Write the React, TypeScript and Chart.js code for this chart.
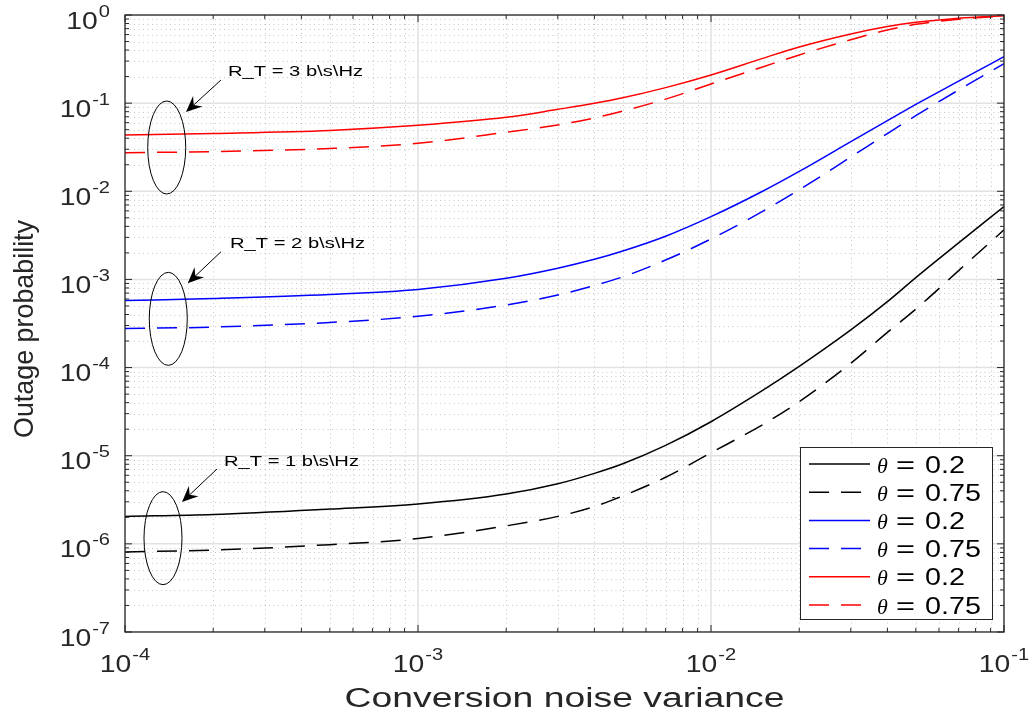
import React, { useEffect, useRef } from "react";
import { Chart, registerables } from "chart.js";

Chart.register(...registerables);

// ---------------- data ----------------
const X_VALUES = [1e-4, 2e-4, 5e-4, 1e-3, 2e-3, 3e-3, 4e-3, 5e-3, 7e-3, 1e-2, 1.5e-2, 2e-2, 3e-2, 4e-2, 5e-2, 7e-2, 1e-1];

const RT1_THETA_02 = [2.05e-6, 2.15e-6, 2.48e-6, 2.83e-6, 3.67e-6, 4.8e-6, 6.3e-6, 8.1e-6, 1.31e-5, 2.43e-5, 5.5e-5, 1.03e-4, 2.67e-4, 5.6e-4, 1.05e-3, 2.6e-3, 6.7e-3];
const RT1_THETA_075 = [8.1e-7, 8.5e-7, 9.8e-7, 1.15e-6, 1.6e-6, 2.05e-6, 2.65e-6, 3.5e-6, 5.7e-6, 1.08e-5, 2.25e-5, 4.1e-5, 1.12e-4, 2.51e-4, 4.6e-4, 1.26e-3, 3.65e-3];
const RT2_THETA_02 = [5.75e-4, 6.08e-4, 6.75e-4, 7.7e-4, 1.03e-3, 1.34e-3, 1.69e-3, 2.1e-3, 3.09e-3, 5.15e-3, 0.01, 0.0168, 0.0366, 0.0635, 0.0966, 0.178, 0.336];
const RT2_THETA_075 = [2.77e-4, 2.88e-4, 3.25e-4, 3.82e-4, 5.13e-4, 6.65e-4, 8.53e-4, 1.07e-3, 1.66e-3, 2.88e-3, 5.92e-3, 0.0104, 0.0245, 0.0452, 0.072, 0.141, 0.28];
const RT3_THETA_02 = [0.0435, 0.0453, 0.049, 0.056, 0.069, 0.085, 0.0995, 0.115, 0.15, 0.209, 0.322, 0.434, 0.61, 0.741, 0.826, 0.92, 0.98];
const RT3_THETA_075 = [0.0274, 0.0282, 0.0306, 0.035, 0.0468, 0.0565, 0.068, 0.0814, 0.111, 0.165, 0.2575, 0.352, 0.525, 0.676, 0.784, 0.895, 0.97];

const THETA_LABELS = ["0.2", "0.75", "0.2", "0.75", "0.2", "0.75"];

const X_TICK_EXPONENTS = [-4, -3, -2, -1];
const Y_TICK_EXPONENTS = [0, -1, -2, -3, -4, -5, -6, -7];
const MINOR_MULTIPLIERS = [2, 3, 4, 5, 6, 7, 8, 9];

const X_TITLE = "Conversion noise variance";
const Y_TITLE = "Outage probability";

const ANNOTATION_LABELS = ["R_T = 3 b\\s\\Hz", "R_T = 2 b\\s\\Hz", "R_T = 1 b\\s\\Hz"];
const ELLIPSE_CENTER_X = [1.388e-4, 1.405e-4, 1.348e-4];
const ELLIPSE_CENTER_Y = [0.0314, 3.57e-4, 1.16e-6];
const ARROW_TAIL_X = [2.126e-4, 2.126e-4, 2.06e-4];
const ARROW_TAIL_Y = [0.183, 2.06e-3, 7.06e-6];
const ARROW_TIP_X = [1.615e-4, 1.637e-4, 1.565e-4];
const ARROW_TIP_Y = [0.0793, 9.04e-4, 2.98e-6];
const LABEL_X = [2.247e-4, 2.283e-4, 2.177e-4];
const LABEL_Y = [0.203, 2.27e-3, 7.64e-6];
const GLITCH_X = 4.7e-3;
const GLITCH_Y = 3.28e-6;

// ---------------- styles ----------------
const SANS = "'Liberation Sans', Arial, Helvetica, sans-serif";
const SERIF = "'Liberation Serif', 'DejaVu Serif', serif";
const AXIS_COLOR = "#262626";
const SERIES = [
  { data: RT1_THETA_02, color: "#000000", dash: [] as number[] },
  { data: RT1_THETA_075, color: "#000000", dash: [20, 12] },
  { data: RT2_THETA_02, color: "#0000ff", dash: [] as number[] },
  { data: RT2_THETA_075, color: "#0000ff", dash: [20, 12] },
  { data: RT3_THETA_02, color: "#ff0000", dash: [] as number[] },
  { data: RT3_THETA_075, color: "#ff0000", dash: [20, 12] },
];

function drawStretched(ctx: CanvasRenderingContext2D, text: string, x: number, y: number, font: string, sx: number, align: string) {
  ctx.save();
  ctx.font = font;
  const w = ctx.measureText(text).width * sx;
  const x0 = align === "left" ? x : align === "center" ? x - w / 2 : x - w;
  ctx.translate(x0, y);
  ctx.scale(sx, 1);
  ctx.textAlign = "left";
  ctx.textBaseline = "alphabetic";
  ctx.fillText(text, 0, 0);
  ctx.restore();
  return w;
}

function drawFitted(ctx: CanvasRenderingContext2D, text: string, x: number, y: number, font: string, width: number, align: string) {
  ctx.save();
  ctx.font = font;
  const sx = width / ctx.measureText(text).width;
  ctx.restore();
  drawStretched(ctx, text, x, y, font, sx, align);
}

function drawPower(ctx: CanvasRenderingContext2D, exp: number, x: number, baseline: number, align: string) {
  const baseFont = `24px ${SANS}`;
  const supFont = `17px ${SANS}`;
  const sx = 1.18;
  const expStr = String(exp);
  ctx.font = baseFont;
  const wb = ctx.measureText("10").width * sx;
  ctx.font = supFont;
  const we = ctx.measureText(expStr).width * sx;
  const gap = 1;
  const total = wb + gap + we;
  const start = align === "center" ? x - total / 2 : x - total;
  drawStretched(ctx, "10", start, baseline, baseFont, sx, "left");
  drawStretched(ctx, expStr, start + wb + gap, baseline - 12, supFont, sx, "left");
}

function tickValues(exps: number[]) {
  const lo = Math.min(...exps);
  const hi = Math.max(...exps);
  const major: number[] = [];
  const minor: number[] = [];
  for (let e = lo; e <= hi; e++) {
    major.push(Math.pow(10, e));
    if (e < hi) MINOR_MULTIPLIERS.forEach((m) => minor.push(m * Math.pow(10, e)));
  }
  return { major, minor };
}

const decorPlugin = {
  id: "matlabDecor",
  beforeDraw(chart: any) {
    const ctx = chart.ctx as CanvasRenderingContext2D;
    ctx.save();
    ctx.fillStyle = "#ffffff";
    ctx.fillRect(0, 0, chart.width, chart.height);
    ctx.restore();
  },
  beforeDatasetsDraw(chart: any) {
    const ctx = chart.ctx as CanvasRenderingContext2D;
    const ca = chart.chartArea;
    const xs = chart.scales.x;
    const ys = chart.scales.y;
    const xt = tickValues(X_TICK_EXPONENTS);
    const yt = tickValues(Y_TICK_EXPONENTS);
    ctx.save();
    ctx.beginPath();
    ctx.rect(ca.left, ca.top, ca.right - ca.left, ca.bottom - ca.top);
    ctx.clip();
    // minor grid
    ctx.strokeStyle = "rgba(38,38,38,0.26)";
    ctx.lineWidth = 1;
    ctx.setLineDash([1, 3.5]);
    xt.minor.forEach((v) => {
      const p = Math.round(xs.getPixelForValue(v)) + 0.5;
      ctx.beginPath();
      ctx.moveTo(p, ca.top);
      ctx.lineTo(p, ca.bottom);
      ctx.stroke();
    });
    yt.minor.forEach((v) => {
      const p = Math.round(ys.getPixelForValue(v)) + 0.5;
      ctx.beginPath();
      ctx.moveTo(ca.left, p);
      ctx.lineTo(ca.right, p);
      ctx.stroke();
    });
    // major grid
    ctx.setLineDash([]);
    ctx.strokeStyle = "#e2e2e2";
    ctx.lineWidth = 1.5;
    xt.major.forEach((v) => {
      const p = xs.getPixelForValue(v);
      ctx.beginPath();
      ctx.moveTo(p, ca.top);
      ctx.lineTo(p, ca.bottom);
      ctx.stroke();
    });
    yt.major.forEach((v) => {
      const p = ys.getPixelForValue(v);
      ctx.beginPath();
      ctx.moveTo(ca.left, p);
      ctx.lineTo(ca.right, p);
      ctx.stroke();
    });
    ctx.restore();
  },
  afterDatasetsDraw(chart: any) {
    const ctx = chart.ctx as CanvasRenderingContext2D;
    const ca = chart.chartArea;
    const xs = chart.scales.x;
    const ys = chart.scales.y;
    const xt = tickValues(X_TICK_EXPONENTS);
    const yt = tickValues(Y_TICK_EXPONENTS);

    ctx.save();
    // axis box
    ctx.strokeStyle = AXIS_COLOR;
    ctx.lineWidth = 1.3;
    ctx.setLineDash([]);
    ctx.strokeRect(ca.left, ca.top, ca.right - ca.left, ca.bottom - ca.top);

    // tick marks (inside)
    ctx.lineWidth = 1;
    const tick = (vals: number[], len: number) => {
      vals.forEach((v) => {
        const px = xs.getPixelForValue(v);
        ctx.beginPath();
        ctx.moveTo(px, ca.bottom);
        ctx.lineTo(px, ca.bottom - len);
        ctx.moveTo(px, ca.top);
        ctx.lineTo(px, ca.top + len);
        ctx.stroke();
      });
    };
    const ytick = (vals: number[], len: number) => {
      vals.forEach((v) => {
        const py = ys.getPixelForValue(v);
        ctx.beginPath();
        ctx.moveTo(ca.left, py);
        ctx.lineTo(ca.left + len, py);
        ctx.moveTo(ca.right, py);
        ctx.lineTo(ca.right - len, py);
        ctx.stroke();
      });
    };
    tick(xt.major, 7);
    tick(xt.minor, 4);
    ytick(yt.major, 7);
    ytick(yt.minor, 4);

    // tick labels
    ctx.fillStyle = AXIS_COLOR;
    X_TICK_EXPONENTS.forEach((e) => {
      const px = xs.getPixelForValue(Math.pow(10, e));
      drawPower(ctx, e, px, ca.bottom + 40, "center");
    });
    Y_TICK_EXPONENTS.forEach((e) => {
      const py = ys.getPixelForValue(Math.pow(10, e));
      drawPower(ctx, e, ca.left - 15, py + 13.6, "right");
    });

    // axis titles
    drawFitted(ctx, X_TITLE, (ca.left + ca.right) / 2, 707, `27px ${SANS}`, 440, "center");
    ctx.save();
    ctx.translate(33, 329);
    ctx.rotate(-Math.PI / 2);
    drawFitted(ctx, Y_TITLE, 0, 0, `28px ${SANS}`, 218, "center");
    ctx.restore();

    // annotations
    ctx.strokeStyle = "#000000";
    ctx.fillStyle = "#000000";
    ctx.lineWidth = 1;
    for (let i = 0; i < ANNOTATION_LABELS.length; i++) {
      const cx = xs.getPixelForValue(ELLIPSE_CENTER_X[i]);
      const cy = ys.getPixelForValue(ELLIPSE_CENTER_Y[i]);
      ctx.beginPath();
      ctx.ellipse(cx, cy, 19, 46.5, 0, 0, Math.PI * 2);
      ctx.stroke();

      const tx = xs.getPixelForValue(ARROW_TAIL_X[i]);
      const ty = ys.getPixelForValue(ARROW_TAIL_Y[i]);
      const hx = xs.getPixelForValue(ARROW_TIP_X[i]);
      const hy = ys.getPixelForValue(ARROW_TIP_Y[i]);
      const dx = hx - tx;
      const dy = hy - ty;
      const L = Math.hypot(dx, dy);
      const ux = dx / L;
      const uy = dy / L;
      const nx = -uy;
      const ny = ux;
      ctx.beginPath();
      ctx.moveTo(tx, ty);
      ctx.lineTo(hx - ux * 10, hy - uy * 10);
      ctx.stroke();
      ctx.beginPath();
      ctx.moveTo(hx, hy);
      ctx.lineTo(hx - ux * 16 + nx * 7, hy - uy * 16 + ny * 7);
      ctx.lineTo(hx - ux * 10.5, hy - uy * 10.5);
      ctx.lineTo(hx - ux * 16 - nx * 7, hy - uy * 16 - ny * 7);
      ctx.closePath();
      ctx.fill();

      const lx = xs.getPixelForValue(LABEL_X[i]);
      const ly = ys.getPixelForValue(LABEL_Y[i]);
      drawFitted(ctx, ANNOTATION_LABELS[i], lx, ly, `15px ${SANS}`, 135, "left");
    }
    // small tilde artifact on the black dashed curve
    drawStretched(ctx, "~", xs.getPixelForValue(GLITCH_X), ys.getPixelForValue(GLITCH_Y) + 5, `15px ${SANS}`, 0.8, "center");

    // legend
    const lgLeft = 800;
    const lgTop = 447;
    const lgRight = 992;
    const lgBottom = 619;
    ctx.fillStyle = "#ffffff";
    ctx.fillRect(lgLeft, lgTop, lgRight - lgLeft, lgBottom - lgTop);
    ctx.strokeStyle = AXIS_COLOR;
    ctx.lineWidth = 1;
    ctx.strokeRect(lgLeft + 0.5, lgTop + 0.5, lgRight - lgLeft, lgBottom - lgTop);
    chart.data.datasets.forEach((ds: any, i: number) => {
      const rowY = 464 + i * 28.2;
      ctx.save();
      ctx.strokeStyle = ds.borderColor;
      ctx.lineWidth = 1.5;
      ctx.setLineDash(ds.borderDash || []);
      ctx.beginPath();
      ctx.moveTo(809, rowY);
      ctx.lineTo(870, rowY);
      ctx.stroke();
      ctx.restore();
      ctx.fillStyle = "#000000";
      drawStretched(ctx, "\u03b8", 877, rowY + 8.5, `italic 22px ${SERIF}`, 1.0, "left");
      drawFitted(ctx, "=", 896, rowY + 8.5, `23px ${SANS}`, 19, "left");
      drawStretched(ctx, THETA_LABELS[i], 925, rowY + 8.5, `23px ${SANS}`, 1.25, "left");
    });
    ctx.restore();
  },
};

export default function App() {
  const canvasRef = useRef<HTMLCanvasElement | null>(null);

  useEffect(() => {
    if (!canvasRef.current) return;
    const chart = new Chart(canvasRef.current, {
      type: "line",
      data: {
        datasets: SERIES.map((s, i) => ({
          label: `\u03b8 = ${THETA_LABELS[i]}`,
          data: X_VALUES.map((x, j) => ({ x, y: s.data[j] })),
          borderColor: s.color,
          backgroundColor: s.color,
          borderDash: s.dash,
          borderWidth: 1.5,
          pointRadius: 0,
          fill: false,
          cubicInterpolationMode: "monotone",
        })),
      },
      options: {
        responsive: false,
        animation: false,
        events: [],
        layout: { padding: { left: 0, top: 15, right: 30, bottom: 0 } },
        plugins: { legend: { display: false }, tooltip: { enabled: false }, title: { display: false } },
        scales: {
          x: {
            type: "logarithmic",
            min: 1e-4,
            max: 1e-1,
            ticks: { display: false },
            grid: { display: false, drawTicks: false },
            border: { display: false },
            afterFit: (s: any) => {
              s.height = 81;
            },
          },
          y: {
            type: "logarithmic",
            min: 1e-7,
            max: 1,
            ticks: { display: false },
            grid: { display: false, drawTicks: false },
            border: { display: false },
            afterFit: (s: any) => {
              s.width = 125;
            },
          },
        },
      } as any,
      plugins: [decorPlugin],
    });
    return () => chart.destroy();
  }, []);

  return (
    <div style={{ position: "absolute", left: 0, top: 0, width: 1034, height: 713, background: "#fff" }}>
      <canvas ref={canvasRef} width={1034} height={713} style={{ display: "block" }} />
    </div>
  );
}
